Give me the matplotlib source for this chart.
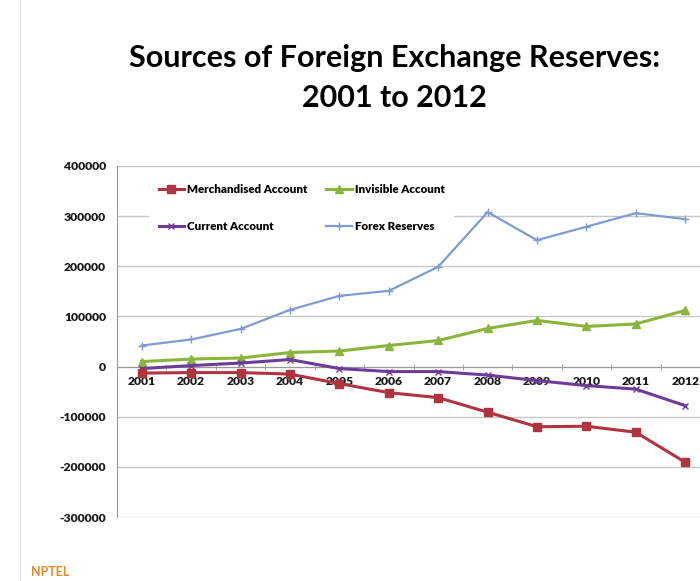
import numpy as np
import matplotlib
matplotlib.use('Agg')
import matplotlib.pyplot as plt
from matplotlib.lines import Line2D

plt.rcParams['font.family'] = ['Lato', 'DejaVu Sans']

years = ['2001', '2002', '2003', '2004', '2005', '2006',
         '2007', '2008', '2009', '2010', '2011', '2012']
merchandised = [-13000, -12000, -12000, -15000, -34000, -52000,
                -62000, -91000, -120000, -119000, -131000, -191000]
invisible = [10000, 15000, 17000, 28000, 31000, 42000,
             52000, 76000, 92000, 80000, 85000, 112000]
current = [-4000, 2000, 7000, 14000, -4000, -10000,
           -10000, -17000, -28000, -38000, -45000, -78000]
forex = [42000, 54000, 75000, 113000, 141000, 151000,
         199000, 308000, 252000, 279000, 306000, 294000]
y_ticks = [400000, 300000, 200000, 100000, 0, -100000, -200000, -300000]

fig = plt.figure(figsize=(7, 5.81), dpi=100)
ax = fig.add_axes([117/700, 1-517/581, (710-117)/700, (517-166)/581])

# spine position first - it resets the tick objects
for s in ['top', 'right']:
    ax.spines[s].set_visible(False)
ax.spines['bottom'].set_position(('data', 0))
ax.spines['bottom'].set_color('#999999')
ax.spines['left'].set_color('#999999')

x = np.arange(len(years))
ax.plot(x, forex, color='#7E9CD2', lw=1.6, marker='+', ms=6, mew=1, label='Forex Reserves', zorder=3)
ax.plot(x, invisible, color='#8AB53C', lw=2.2, marker='^', ms=6, label='Invisible Account', zorder=3)
ax.plot(x, current, color='#6E3C98', lw=2.2, marker='x', ms=5, mew=1, label='Current Account', zorder=3)
ax.plot(x, merchandised, color='#B0343F', lw=2.2, marker='s', ms=6, label='Merchandised Account', zorder=3)

tick_font = {'fontsize': 8.7, 'fontweight': 'heavy', 'color': '#1a1a1a'}
ax.set_xlim(-0.5, len(years) - 0.5)
ax.set_ylim(-300000, 400000)
ax.set_yticks(y_ticks, labels=[str(v) for v in y_ticks], **tick_font)
ax.set_xticks(np.arange(-0.5, len(years)), minor=True)
ax.set_xticks(x, labels=years, **tick_font)

ax.tick_params(axis='y', length=0, pad=8)
ax.tick_params(axis='x', which='major', length=0, pad=7)
ax.tick_params(axis='x', which='minor', length=5, color='#999999', direction='inout')
ax.grid(axis='y', color='#c8c8c8', lw=1)
ax.set_axisbelow(True)

# column-major fill: row1 = Merchandised, Invisible; row2 = Current, Forex
handles, labels = ax.get_legend_handles_labels()
order = [3, 2, 1, 0]
leg = ax.legend([handles[i] for i in order], [labels[i] for i in order],
                ncol=2, loc='upper left', bbox_to_anchor=(0.045, 0.99),
                prop={'weight': 'heavy', 'size': 8.3}, frameon=True,
                facecolor='white', edgecolor='none', framealpha=1,
                handlelength=2.2, columnspacing=1.6, labelspacing=2.2,
                handletextpad=0.3, borderpad=0.8)

fig.text(0.563, 1-58/581, 'Sources of Foreign Exchange Reserves:', ha='center', va='center',
         fontsize=22, fontweight='bold', color='black')
fig.text(0.563, 1-98/581, '2001 to 2012', ha='center', va='center',
         fontsize=22, fontweight='bold', color='black')

fig.add_artist(Line2D([20/700, 20/700], [0, 1], color='#e6e6e6', lw=1, transform=fig.transFigure))
fig.text(50/700, 1-572/581, 'NPTEL', ha='center', va='center', fontsize=9,
         fontweight='bold', color='#E08A2A')

fig.savefig('out.png', dpi=100)
